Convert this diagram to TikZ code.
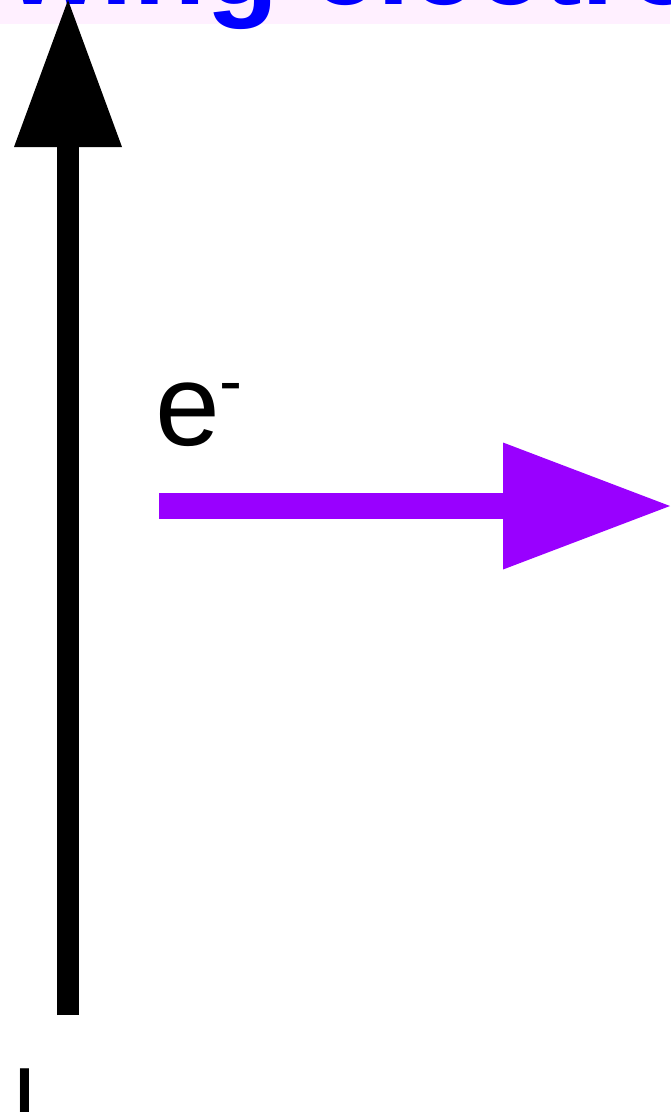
\documentclass[tikz,border=0pt]{standalone}
\usepackage{fontspec}
\setmainfont{Liberation Sans}
\usetikzlibrary{arrows.meta}
\definecolor{bandpink}{HTML}{FFF0FF}
\definecolor{elecblue}{HTML}{0000FF}
\definecolor{elecpurple}{HTML}{9900FF}
\tikzset{
  bigtext/.style={font=\fontsize{116.5}{140}\selectfont},
  fatarrow/.style={line width=#1}
}
\begin{document}
\begin{tikzpicture}[x=1pt, y=-1pt, inner sep=0pt, outer sep=0pt]
  \useasboundingbox (0,0) rectangle (670,1112);
  \clip (0,0) rectangle (670,1112);

  \fill[bandpink] (0,0) rectangle (670,24);
  \node[anchor=base west, text=elecblue, font=\fontsize{118.5}{140}\selectfont\bfseries] (title) at (-169,4) {Flowing electrons};

  % current
  \coordinate (cbot) at (68,1015);
  \coordinate (ctop) at (68,0);
  \draw[fatarrow=22pt, -{Triangle[length=147pt,width=108pt,line width=0pt]}] (cbot) -- (ctop);
  \node[anchor=base west, font=\fontsize{97}{110}\selectfont] (curlabel) at (12,1135.5) {I};

  % electron flow
  \node[anchor=base west, bigtext] (elabel) at (155,445) {e\raisebox{41pt}{\fontsize{69}{69}\selectfont -}};
  \coordinate (estart) at (159,506);
  \coordinate (eend) at (670,506);
  \draw[elecpurple, fatarrow=26pt, -{Triangle[length=167pt,width=127pt,line width=0pt]}] (estart) -- (eend);
\end{tikzpicture}
\end{document}
